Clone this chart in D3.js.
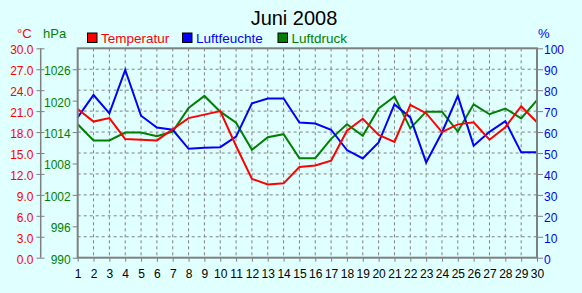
<!DOCTYPE html>
<html><head><meta charset="utf-8">
<script src="https://cdn.jsdelivr.net/npm/d3@7"></script>
<style>
body{margin:0;background:#e0ffff;}
svg{display:block;font-family:"Liberation Sans",Arial,sans-serif;}
</style>
</head><body><svg id="c" width="582" height="293"></svg>
<script>
const days = [1,2,3,4,5,6,7,8,9,10,11,12,13,14,15,16,17,18,19,20,21,22,23,24,25,26,27,28,29,30];
const temperatur = [21.3,19.5,20.0,17.0,16.9,16.8,18.4,20.0,20.5,21.0,16.0,11.3,10.5,10.65,13.0,13.2,13.9,18.2,19.9,17.6,16.6,21.9,20.7,18.0,19.1,19.4,16.9,18.7,21.7,19.4];
const luftfeuchte = [67.0,77.7,68.9,89.7,67.8,62.2,61.1,52.0,52.5,52.8,57.8,73.7,76.0,76.0,64.6,64.1,61.1,51.4,47.4,55.0,73.2,67.0,45.5,59.8,77.3,53.5,60.1,65.2,50.3,50.3];
const luftdruck = [1015.5,1012.4,1012.4,1013.9,1013.9,1013.2,1014.1,1018.6,1020.9,1017.9,1015.8,1010.6,1013.0,1013.6,1009.0,1009.0,1012.7,1015.5,1013.3,1018.5,1020.8,1014.7,1017.9,1017.9,1014.1,1019.3,1017.4,1018.5,1016.6,1020.1];
const tempTicks = [0,3,6,9,12,15,18,21,24,27,30];
const pressTicks = [990,996,1002,1008,1014,1020,1026];
const humTicks = [0,10,20,30,40,50,60,70,80,90,100];
const title = "Juni 2008";
const legendNames = ["Temperatur","Luftfeuchte","Luftdruck"];

const RED="#ff0000", BLUE="#0000ff", GREEN="#008000", GRAY="#808080";
const svg = d3.select("#c");
const L=77.7, R=537, T=48.3, B=257.7;
const x = d3.scaleLinear().domain([1,30]).range([L,R]);
const yT = d3.scaleLinear().domain([0,30]).range([B,T]);
const yP = d3.scaleLinear().domain([990,1030]).range([B,T]);
const yH = d3.scaleLinear().domain([0,100]).range([B,T]);

// grid
const g = svg.append("g");
g.selectAll("line.v").data(days.slice(1,-1)).join("line")
  .attr("x1",d=>x(d)).attr("x2",d=>x(d)).attr("y1",T).attr("y2",B)
  .attr("stroke",GRAY).attr("stroke-dasharray","3,3");
g.selectAll("line.h").data(tempTicks.slice(1,-1)).join("line")
  .attr("x1",L).attr("x2",R).attr("y1",d=>yT(d)).attr("y2",d=>yT(d))
  .attr("stroke",GRAY).attr("stroke-dasharray","3,3");

// lines
const series = [[temperatur,yT,RED],[luftfeuchte,yH,BLUE],[luftdruck,yP,GREEN]];
// draw order: blue, green, red? keep: green, blue, red
[[luftdruck,yP,GREEN],[luftfeuchte,yH,BLUE],[temperatur,yT,RED]].forEach(([vals,ys,col])=>{
  svg.append("path").datum(vals)
    .attr("fill","none").attr("stroke",col).attr("stroke-width",2)
    .attr("d", d3.line().x((d,i)=>x(days[i])).y(d=>ys(d)));
});

// frame
svg.append("rect").attr("x",L).attr("y",T).attr("width",R-L).attr("height",B-T)
  .attr("fill","none").attr("stroke",GRAY).attr("stroke-width",2);

function style(sel,col){
  sel.select(".domain").remove();
  sel.selectAll(".tick line").attr("stroke",GRAY);
  sel.selectAll("text").attr("fill",col).attr("font-size",12).attr("font-family","Liberation Sans, Arial, sans-serif");
}
// temperature axis
svg.append("line").attr("x1",40.7).attr("x2",40.7).attr("y1",T).attr("y2",B).attr("stroke",GRAY).attr("stroke-width",1.5);
const aT = svg.append("g").attr("transform","translate(44.5,0)")
  .call(d3.axisLeft(yT).tickValues(tempTicks).tickFormat(d3.format(".1f")).tickSize(8).tickPadding(3));
style(aT,RED); aT.selectAll("text").attr("dy","0.45em");
// pressure axis
const aP = svg.append("g").attr("transform",`translate(${L},0)`)
  .call(d3.axisLeft(yP).tickValues(pressTicks).tickFormat(d3.format("d")).tickSize(5).tickPadding(2));
style(aP,GREEN); aP.selectAll("text").attr("dy","0.45em");
// humidity axis
const aH = svg.append("g").attr("transform",`translate(${R},0)`)
  .call(d3.axisRight(yH).tickValues(humTicks).tickSize(6).tickPadding(1));
style(aH,BLUE); aH.selectAll("text").attr("dy","0.45em");
// day axis
const aX = svg.append("g").attr("transform",`translate(0,${B})`)
  .call(d3.axisBottom(x).tickValues(days).tickFormat(d3.format("d")).tickSize(4).tickPadding(8));
style(aX,"#000");

// title
svg.append("text").attr("x",294).attr("y",25).attr("text-anchor","middle")
  .attr("font-size",20).attr("fill","#000").text(title);
// unit labels
svg.append("text").attr("x",17).attr("y",38).attr("font-size",13).attr("fill",RED).text("°C");
svg.append("text").attr("x",43).attr("y",38).attr("font-size",13).attr("fill",GREEN).text("hPa");
svg.append("text").attr("x",538).attr("y",38).attr("font-size",13).attr("fill",BLUE).text("%");
// legend
const legX = [87.5,182.5,278];
legendNames.forEach((n,i)=>{
  const col=[RED,BLUE,GREEN][i];
  svg.append("rect").attr("x",legX[i]).attr("y",33).attr("width",9.5).attr("height",9.5)
    .attr("fill",col).attr("stroke","#000").attr("stroke-width",1);
  svg.append("text").attr("x",legX[i]+13.5).attr("y",43).attr("font-size",13.5).attr("fill",col).text(n);
});
</script></body></html>
